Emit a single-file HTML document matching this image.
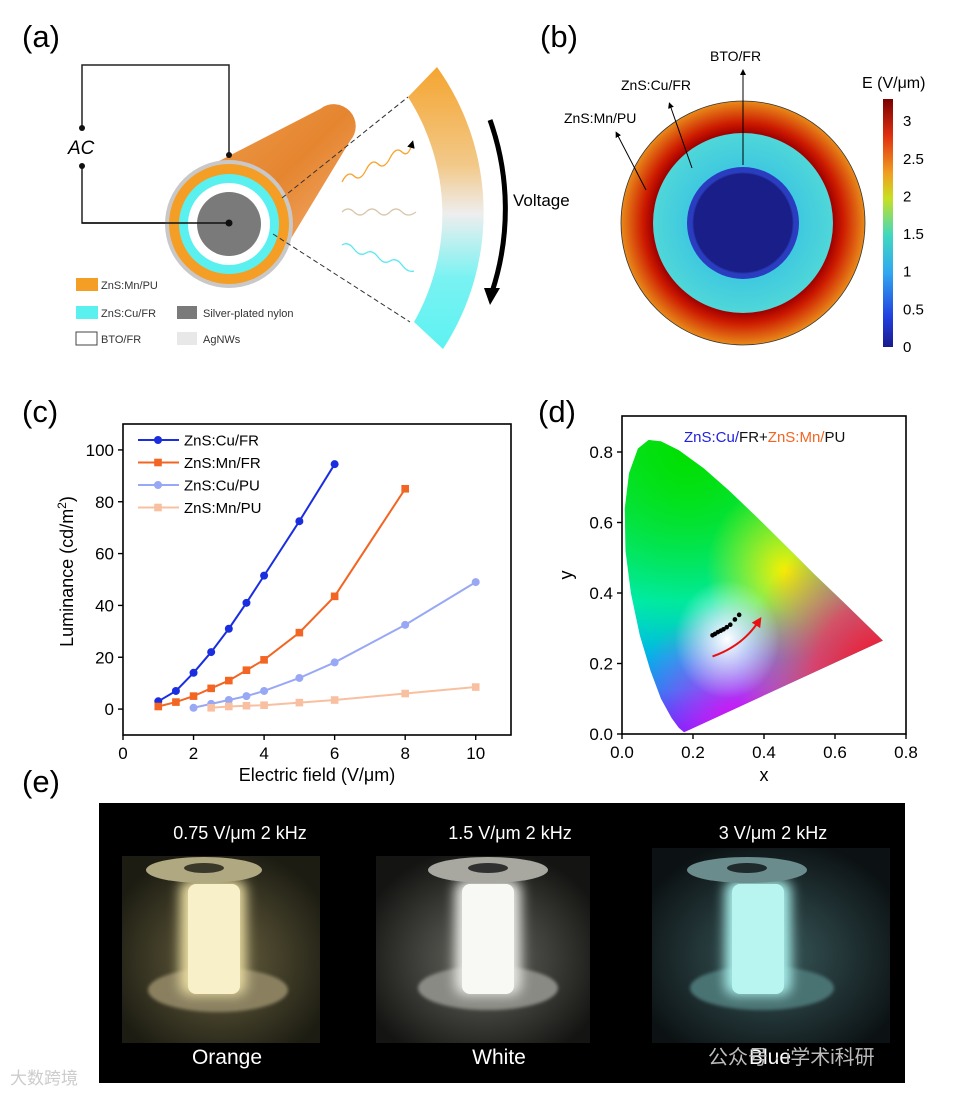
<!DOCTYPE html>
<html><head><meta charset="utf-8"><style>
html,body{margin:0;padding:0;background:#fff;}
svg{display:block;font-family:"Liberation Sans",Arial,sans-serif;}
</style></head><body>
<svg id="fig" width="965" height="1095" viewBox="0 0 965 1095" xmlns="http://www.w3.org/2000/svg">
<defs>
  <linearGradient id="bandGrad" x1="0" y1="0" x2="0" y2="1">
    <stop offset="0" stop-color="#f5a530"/><stop offset="0.35" stop-color="#f2c98a"/>
    <stop offset="0.52" stop-color="#eeeeee"/><stop offset="0.75" stop-color="#79f2f2"/><stop offset="1" stop-color="#5ef2f2"/>
  </linearGradient>
  <linearGradient id="tubeGrad" x1="0" y1="0" x2="1" y2="1">
    <stop offset="0" stop-color="#f0a050"/><stop offset="0.5" stop-color="#e58530"/><stop offset="1" stop-color="#f7b880"/>
  </linearGradient>
  <radialGradient id="outerRing" cx="0.5" cy="0.5" r="0.5">
    <stop offset="0.74" stop-color="#a00000"/><stop offset="0.82" stop-color="#cc1a00"/><stop offset="1" stop-color="#e98b1a"/>
  </radialGradient>
  <radialGradient id="cyanRing" cx="0.5" cy="0.5" r="0.5">
    <stop offset="0.6" stop-color="#3ec8e0"/><stop offset="1" stop-color="#4fd7d8"/>
  </radialGradient>
  <linearGradient id="cbar" x1="0" y1="1" x2="0" y2="0">
    <stop offset="0" stop-color="#1a1a8c"/><stop offset="0.12" stop-color="#2040e0"/><stop offset="0.3" stop-color="#30a8f0"/>
    <stop offset="0.45" stop-color="#40d8c0"/><stop offset="0.6" stop-color="#c8e020"/><stop offset="0.7" stop-color="#f0a020"/>
    <stop offset="0.85" stop-color="#e03010"/><stop offset="1" stop-color="#7a0000"/>
  </linearGradient>
  <clipPath id="cieClip"><path id="ciePath" d=""/></clipPath>
  <radialGradient id="cieGreen" cx="0.25" cy="0.05" r="0.7"><stop offset="0" stop-color="#00e000"/><stop offset="1" stop-color="#00e000" stop-opacity="0"/></radialGradient>
  <radialGradient id="cieRed" cx="1" cy="0.82" r="0.55"><stop offset="0" stop-color="#ff0010"/><stop offset="0.5" stop-color="#ff3050" stop-opacity="0.8"/><stop offset="1" stop-color="#ff6060" stop-opacity="0"/></radialGradient>
  <radialGradient id="cieMag" cx="0.45" cy="1" r="0.45"><stop offset="0" stop-color="#f000f0"/><stop offset="1" stop-color="#ff40ff" stop-opacity="0"/></radialGradient>
  <radialGradient id="cieYel" cx="0.62" cy="0.45" r="0.3"><stop offset="0" stop-color="#f8f000"/><stop offset="1" stop-color="#f0f000" stop-opacity="0"/></radialGradient>
  <radialGradient id="cieWhite" cx="0.4" cy="0.68" r="0.2"><stop offset="0" stop-color="#ffffff"/><stop offset="1" stop-color="#ffffff" stop-opacity="0"/></radialGradient>
  <linearGradient id="cieBase" x1="0" y1="0" x2="0" y2="1"><stop offset="0" stop-color="#10e040"/><stop offset="0.55" stop-color="#00eed8"/><stop offset="0.85" stop-color="#0090f0"/><stop offset="1" stop-color="#2020ff"/></linearGradient>
  <radialGradient id="ph1" cx="0.5" cy="0.55" r="0.6"><stop offset="0" stop-color="#6a6240"/><stop offset="1" stop-color="#1c1c12"/></radialGradient>
  <radialGradient id="ph2" cx="0.5" cy="0.55" r="0.6"><stop offset="0" stop-color="#6a6a64"/><stop offset="1" stop-color="#141412"/></radialGradient>
  <radialGradient id="ph3" cx="0.5" cy="0.55" r="0.6"><stop offset="0" stop-color="#3a5a5c"/><stop offset="1" stop-color="#0c1214"/></radialGradient>
  <filter id="glow" x="-50%" y="-50%" width="200%" height="200%"><feGaussianBlur stdDeviation="6"/></filter>
  <filter id="soft"><feGaussianBlur stdDeviation="1.5"/></filter>
  <marker id="ah" markerWidth="6" markerHeight="6" refX="3" refY="3" orient="auto"><path d="M0,0 L6,3 L0,6 z" fill="#000"/></marker>
  <marker id="ahR" markerWidth="5" markerHeight="5" refX="2.5" refY="2.5" orient="auto"><path d="M0,0 L5,2.5 L0,5 z" fill="#e81010"/></marker>
</defs>

<!-- ===== (a) ===== -->
<g>
  <text x="22" y="47" font-size="31">(a)</text>
  <g fill="none" stroke="#222" stroke-width="1.5">
    <polyline points="82,128 82,65 229,65 229,155"/>
    <polyline points="82,166 82,223 229,223"/>
  </g>
  <circle cx="82" cy="128" r="3" fill="#111"/><circle cx="82" cy="166" r="3" fill="#111"/>
  <text x="68" y="154" font-size="19" font-style="italic">AC</text>
  <path d="M186,178 L320,109 A22,22 0 0 1 350,141 L272,270 Z" fill="url(#tubeGrad)"/>
  <circle cx="229" cy="224" r="64" fill="#c8c8c8"/>
  <circle cx="229" cy="224" r="60" fill="#f59e25"/>
  <circle cx="229" cy="224" r="50" fill="#5af0f0"/>
  <circle cx="229" cy="224" r="41" fill="#fff"/>
  <circle cx="229" cy="224" r="32" fill="#7a7a7a"/>
  <circle cx="229" cy="155" r="3" fill="#111"/><circle cx="229" cy="223" r="3.5" fill="#111"/>
  <polyline points="82,223 229,223" stroke="#111" stroke-width="1.5" fill="none"/>
  <line x1="282" y1="198" x2="408" y2="97" stroke="#333" stroke-dasharray="5,3"/>
  <line x1="273" y1="234" x2="410" y2="322" stroke="#333" stroke-dasharray="5,3"/>
  <path d="M437,67 A250,250 0 0 1 443,349 L414,322 A218,218 0 0 0 408,97 Z" fill="url(#bandGrad)"/>
  <path d="M490,120 A265,265 0 0 1 492,292" fill="none" stroke="#000" stroke-width="5"/>
  <path d="M484,288 L500,288 L490,305 Z" fill="#000"/>
  <text x="513" y="206" font-size="17">Voltage</text>
  <path d="M342,182 q6,-12 12,-6 t12,-6 t12,-6 t12,-6 t12,-6 t10,-8" fill="none" stroke="#f5a530" stroke-width="1.3" marker-end="url(#ah)"/>
  <path d="M342,212 q6,-6 12,0 t12,0 t12,0 t12,0 t12,0 t14,0" fill="none" stroke="#d8c8b0" stroke-width="1.3"/>
  <path d="M342,245 q6,-4 12,4 t12,4 t12,4 t12,4 t12,4 t12,6" fill="none" stroke="#5ae8f0" stroke-width="1.3"/>
  <g font-size="11" fill="#333">
    <rect x="76" y="278" width="22" height="13" fill="#f59e25"/><text x="101" y="289">ZnS:Mn/PU</text>
    <rect x="76" y="306" width="22" height="13" fill="#5af0f0"/><text x="101" y="317">ZnS:Cu/FR</text>
    <rect x="177" y="306" width="20" height="13" fill="#7a7a7a"/><text x="203" y="317">Silver-plated nylon</text>
    <rect x="76" y="332" width="21" height="13" fill="#fff" stroke="#444"/><text x="101" y="343">BTO/FR</text>
    <rect x="177" y="332" width="20" height="13" fill="#e8e8e8"/><text x="203" y="343">AgNWs</text>
  </g>
</g>

<!-- ===== (b) ===== -->
<g>
  <text x="540" y="47" font-size="31">(b)</text>
  <circle cx="743" cy="223" r="122" fill="url(#outerRing)" stroke="#333" stroke-width="0.8"/>
  <circle cx="743" cy="223" r="90" fill="url(#cyanRing)"/>
  <circle cx="743" cy="223" r="56" fill="#2a3dc0"/>
  <circle cx="743" cy="223" r="50" fill="#1a1e88" stroke="#2230a0"/>
  <line x1="743" y1="165" x2="743" y2="72" stroke="#000" marker-end="url(#ah)"/>
  <line x1="692" y1="168" x2="670" y2="105" stroke="#000" marker-end="url(#ah)"/>
  <line x1="646" y1="190" x2="617" y2="134" stroke="#000" marker-end="url(#ah)"/>
  <text x="710" y="61" font-size="14">BTO/FR</text>
  <text x="621" y="90" font-size="14">ZnS:Cu/FR</text>
  <text x="564" y="123" font-size="14">ZnS:Mn/PU</text>
  <text x="862" y="88" font-size="16">E (V/μm)</text>
  <rect x="883" y="99" width="10" height="248" fill="url(#cbar)"/>
  <g id="cbTicks" font-size="15"></g>
</g>

<!-- ===== (c) ===== -->
<g>
  <text x="22" y="422" font-size="31">(c)</text>
  <g id="chartC"></g>
</g>

<!-- ===== (d) ===== -->
<g>
  <text x="538" y="422" font-size="31">(d)</text>
  <g id="chartD"></g>
</g>

<!-- ===== (e) ===== -->
<g>
  <text x="22" y="792" font-size="31">(e)</text>
  <rect x="99" y="803" width="806" height="280" fill="#000"/>
  <g>
    <rect x="122" y="856" width="198" height="187" fill="url(#ph1)"/>
    <ellipse cx="218" cy="990" rx="70" ry="22" fill="#8a8060" filter="url(#soft)"/>
    <rect x="180" y="880" width="66" height="115" rx="10" fill="#e8dca0" filter="url(#glow)"/>
    <rect x="188" y="884" width="52" height="110" rx="8" fill="#f8f0c8"/>
    <ellipse cx="204" cy="870" rx="58" ry="13" fill="#b0a880"/>
    <ellipse cx="204" cy="868" rx="20" ry="5" fill="#3a3828"/>
  </g>
  <g>
    <rect x="376" y="856" width="214" height="187" fill="url(#ph2)"/>
    <ellipse cx="488" cy="988" rx="70" ry="22" fill="#8a8a84" filter="url(#soft)"/>
    <rect x="455" y="880" width="66" height="115" rx="10" fill="#e8e8e4" filter="url(#glow)"/>
    <rect x="462" y="884" width="52" height="110" rx="8" fill="#f8f8f4"/>
    <ellipse cx="488" cy="870" rx="60" ry="13" fill="#a8a8a0"/>
    <ellipse cx="488" cy="868" rx="20" ry="5" fill="#303030"/>
  </g>
  <g>
    <rect x="652" y="848" width="238" height="195" fill="url(#ph3)"/>
    <ellipse cx="762" cy="988" rx="72" ry="22" fill="#4a7272" filter="url(#soft)"/>
    <rect x="725" y="880" width="66" height="115" rx="10" fill="#a8f0ec" filter="url(#glow)"/>
    <rect x="732" y="884" width="52" height="110" rx="8" fill="#b8f4f0"/>
    <ellipse cx="747" cy="870" rx="60" ry="13" fill="#6a8c8c"/>
    <ellipse cx="747" cy="868" rx="20" ry="5" fill="#1e2a2c"/>
  </g>
  <g fill="#fff" font-size="18" text-anchor="middle">
    <text x="240" y="839">0.75 V/μm 2 kHz</text>
    <text x="510" y="839">1.5 V/μm 2 kHz</text>
    <text x="773" y="839">3 V/μm 2 kHz</text>
    <text x="227" y="1064" font-size="21">Orange</text>
    <text x="499" y="1064" font-size="21">White</text>
    <text x="770" y="1064" font-size="21">Blue</text>
  </g>
  <text x="708" y="1064" font-size="20" fill="#bbb" font-family="'Liberation Sans','Noto Sans CJK SC',sans-serif">公众号 · i学术i科研</text>
  <text x="10" y="1084" font-size="17" fill="#ccc" font-family="'Liberation Sans','Noto Sans CJK SC',sans-serif">大数跨境</text>
</g>
</svg>

<script>
// ---------- chart (c) data ----------
const cuFrX = [1,1.5,2,2.5,3,3.5,4,5,6];
const cuFrY = [3,7,14,22,31,41,51.5,72.5,94.5];
const mnFrX = [1,1.5,2,2.5,3,3.5,4,5,6,8];
const mnFrY = [1,2.7,5,8,11,15,19,29.5,43.5,85];
const cuPuX = [2,2.5,3,3.5,4,5,6,8,10];
const cuPuY = [0.5,2,3.5,5,7,12,18,32.5,49];
const mnPuX = [2.5,3,3.5,4,5,6,8,10];
const mnPuY = [0.5,1,1.3,1.5,2.5,3.5,6,8.5];
const seriesNames = ["ZnS:Cu/FR","ZnS:Mn/FR","ZnS:Cu/PU","ZnS:Mn/PU"];
const xTicksC = [0,2,4,6,8,10];
const yTicksC = [0,20,40,60,80,100];
// ---------- chart (d) data ----------
const cieX = [0.255,0.262,0.27,0.278,0.286,0.295,0.305,0.318,0.33];
const cieY = [0.28,0.284,0.289,0.293,0.297,0.303,0.31,0.325,0.338];
const xTicksD = [0,0.2,0.4,0.6,0.8];
const yTicksD = [0,0.2,0.4,0.6,0.8];
const cbTicks = [0,0.5,1,1.5,2,2.5,3];

const NS = "http://www.w3.org/2000/svg";
function mk(tag, attrs, parent){ const e=document.createElementNS(NS,tag); for(const k in attrs) e.setAttribute(k,attrs[k]); parent.appendChild(e); return e; }

const cbG = document.getElementById('cbTicks');
const cbY = v => 346 - v*75.3;
cbTicks.forEach(v=>{ const t=mk('text',{x:903,y:cbY(v)+6},cbG); t.textContent=String(v);

 });

(function(){
  const g = document.getElementById('chartC');
  const L=123,R=511,T=424,B=735, xmin=0,xmax=11,ymin=-10,ymax=110;
  const xs = v => L + (v-xmin)/(xmax-xmin)*(R-L);
  const ys = v => B - (v-ymin)/(ymax-ymin)*(B-T);
  const frame = mk('rect',{x:L,y:T,width:R-L,height:B-T,fill:'none',stroke:'#000','stroke-width':1.6},g);
  
  
  xTicksC.forEach(v=>{ mk('line',{x1:xs(v),x2:xs(v),y1:B,y2:B+5,stroke:'#000','stroke-width':1.4},g);
    const t=mk('text',{x:xs(v),y:B+24,'font-size':17,'text-anchor':'middle'},g); t.textContent=v;
    
     });
  yTicksC.forEach(v=>{ mk('line',{x1:L-5,x2:L,y1:ys(v),y2:ys(v),stroke:'#000','stroke-width':1.4},g);
    const t=mk('text',{x:L-9,y:ys(v)+6,'font-size':17,'text-anchor':'end'},g); t.textContent=v;
    
     });
  const xt=mk('text',{x:(L+R)/2,y:781,'font-size':18,'text-anchor':'middle'},g); xt.textContent='Electric field (V/μm)';
  
  
  const yt=mk('text',{x:0,y:0,'font-size':18,'text-anchor':'middle',transform:`translate(73,${(T+B)/2-8}) rotate(-90)`},g);
  yt.innerHTML='Luminance (cd/m<tspan dy="-7" font-size="12">2</tspan><tspan dy="7">)</tspan>';
  
  
  const sets=[[cuFrX,cuFrY,'#1a2ee0','c'],[mnFrX,mnFrY,'#f26522','s'],[cuPuX,cuPuY,'#98a8f4','c'],[mnPuX,mnPuY,'#f8c0a0','s']];
  sets.forEach((s,i)=>{
    const [X,Y,col,shape]=s;
    const pts=X.map((x,j)=>xs(x)+','+ys(Y[j])).join(' ');
    const pl=mk('polyline',{points:pts,fill:'none',stroke:col,'stroke-width':2},g);
    
    
    X.forEach((x,j)=>{
      let m;
      if(shape==='c') m=mk('circle',{cx:xs(x),cy:ys(Y[j]),r:4,fill:col},g);
      else m=mk('rect',{x:xs(x)-3.8,y:ys(Y[j])-3.8,width:7.6,height:7.6,fill:col},g);
      
      
    });
    const ly=440+i*22.5;
    mk('line',{x1:138,x2:179,y1:ly,y2:ly,stroke:col,'stroke-width':2},g);
    if(shape==='c') mk('circle',{cx:158,cy:ly,r:4,fill:col},g); else mk('rect',{x:154.2,y:ly-3.8,width:7.6,height:7.6,fill:col},g);
    const lt=mk('text',{x:184,y:ly+5.5,'font-size':15},g); lt.textContent=seriesNames[i];
    
    
  });
})();

(function(){
  const g = document.getElementById('chartD');
  const L=622,R=906,T=416,B=734;
  const xs = v => L + v*355;
  const ys = v => B - v*352.5;
  const locus=[[0.175,0.005],[0.16,0.018],[0.14,0.045],[0.11,0.1],[0.08,0.18],[0.05,0.28],[0.025,0.4],[0.01,0.52],[0.008,0.64],[0.02,0.74],[0.045,0.81],[0.075,0.834],[0.11,0.83],[0.16,0.805],[0.23,0.754],[0.3,0.692],[0.38,0.615],[0.46,0.535],[0.54,0.455],[0.62,0.378],[0.735,0.265]];
  const d='M'+locus.map(p=>xs(p[0]).toFixed(1)+','+ys(p[1]).toFixed(1)).join(' L')+' Z';
  document.getElementById('ciePath').setAttribute('d',d);
  const cg=mk('g',{'clip-path':'url(#cieClip)'},g);
  
  
  const bx=xs(0), by=ys(0.84), bw=xs(0.74)-xs(0), bh=ys(0)-ys(0.84);
  ['cieBase','cieGreen','cieYel','cieMag','cieRed','cieWhite'].forEach(id=>mk('rect',{x:bx,y:by,width:bw,height:bh,fill:`url(#${id})`},cg));
  const frame=mk('rect',{x:L,y:T,width:R-L,height:B-T,fill:'none',stroke:'#000','stroke-width':1.6},g);
  
  
  xTicksD.forEach(v=>{ mk('line',{x1:xs(v),x2:xs(v),y1:B,y2:B+5,stroke:'#000','stroke-width':1.4},g);
    const t=mk('text',{x:xs(v),y:B+24,'font-size':17,'text-anchor':'middle'},g); t.textContent=v.toFixed(1);
    
     });
  yTicksD.forEach(v=>{ mk('line',{x1:L-5,x2:L,y1:ys(v),y2:ys(v),stroke:'#000','stroke-width':1.4},g);
    const t=mk('text',{x:L-9,y:ys(v)+6,'font-size':17,'text-anchor':'end'},g); t.textContent=v.toFixed(1);
    
     });
  const xt=mk('text',{x:(L+R)/2,y:781,'font-size':18,'text-anchor':'middle'},g); xt.textContent='x';
  
  
  const yt=mk('text',{x:0,y:0,'font-size':18,'text-anchor':'middle',transform:`translate(572,${(T+B)/2}) rotate(-90)`},g); yt.textContent='y';
  
  
  const ti=mk('text',{x:684,y:442,'font-size':15},g);
  ti.innerHTML='<tspan fill="#2020e0">ZnS:Cu/</tspan><tspan fill="#111">FR+</tspan><tspan fill="#f26522">ZnS:Mn/</tspan><tspan fill="#111">PU</tspan>';
  
  
  cieX.forEach((x,j)=>{ const c=mk('circle',{cx:xs(x),cy:ys(cieY[j]),r:2.3,fill:'#000'},g);
    
     });
  const ar=mk('path',{d:`M${xs(0.255)},${ys(0.22)} Q${xs(0.34)},${ys(0.25)} ${xs(0.385)},${ys(0.32)}`,fill:'none',stroke:'#e81010','stroke-width':2,'marker-end':'url(#ahR)'},g);
  
  
})();
</script>
</body></html>
